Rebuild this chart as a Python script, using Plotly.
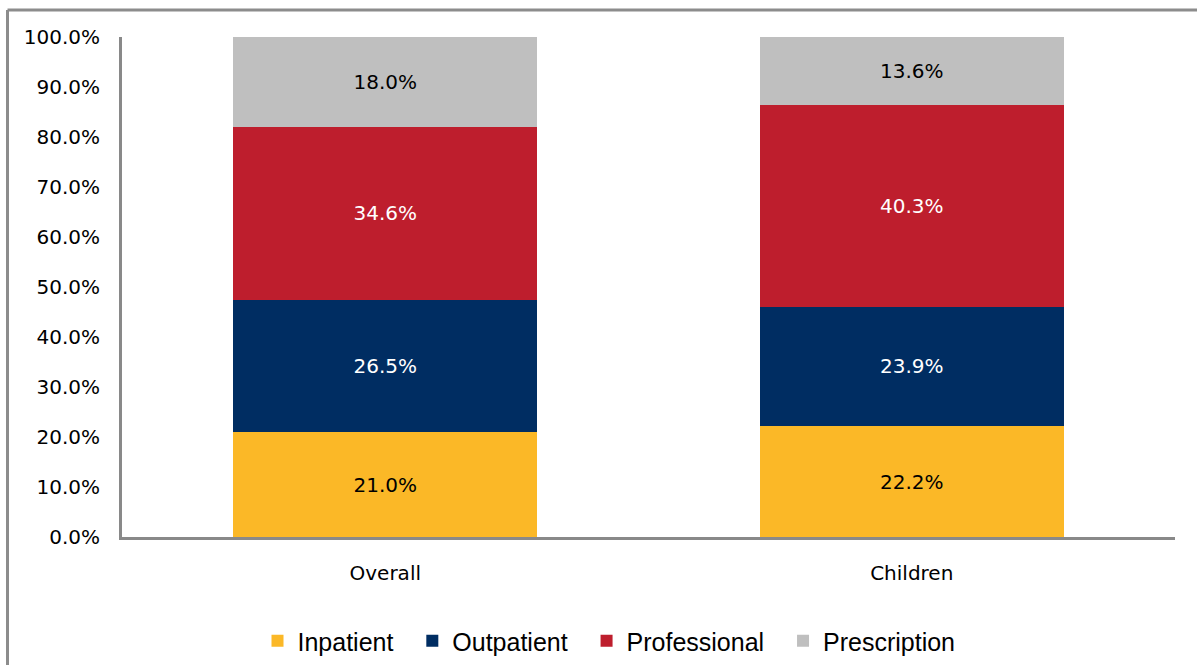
import plotly.graph_objects as go

categories = ["Overall", "Children"]
series_names = ["Inpatient", "Outpatient", "Professional", "Prescription"]
inpatient = [21.0, 22.2]
outpatient = [26.5, 23.9]
professional = [34.6, 40.3]
prescription = [18.0, 13.6]
tick_vals = [0, 10, 20, 30, 40, 50, 60, 70, 80, 90, 100]
tick_text = ["0.0%", "10.0%", "20.0%", "30.0%", "40.0%", "50.0%", "60.0%", "70.0%", "80.0%", "90.0%", "100.0%"]

colors = ["#FBB827", "#002D62", "#BE1E2D", "#BFBFBF"]
text_colors = ["#000000", "#FFFFFF", "#FFFFFF", "#000000"]
series = [inpatient, outpatient, professional, prescription]

fig = go.Figure()
for name, vals, col, tcol in zip(series_names, series, colors, text_colors):
    fig.add_trace(go.Bar(
        x=categories, y=vals, name=name + "\u00a0\u00a0",
        marker=dict(color=col, line=dict(width=0)),
        text=[f"{v:.1f}%" for v in vals],
        textposition="inside", insidetextanchor="middle",
        textfont=dict(color=tcol, size=20, family="DejaVu Sans"),
        hoverinfo="skip",
    ))

L, R, T, B = 122, 22, 37, 128
W, H = 1197, 665
pw, ph = W - L - R, H - T - B

def px_x(px):
    return (px - L) / pw

def px_y(py):
    return (H - B - py) / ph

fig.update_layout(
    barmode="stack",
    barnorm="percent",
    bargap=0.423,
    width=W, height=H,
    margin=dict(l=L, r=R, t=T, b=B, autoexpand=False),
    plot_bgcolor="white", paper_bgcolor="white",
    font=dict(family="DejaVu Sans", size=20, color="#000000"),
    legend=dict(
        orientation="h", xref="container", yref="container",
        x=616 / W, xanchor="center", y=1 - 641 / H, yanchor="middle",
        font=dict(size=25, family="Liberation Sans"),
        traceorder="normal", itemclick=False,
    ),
    xaxis=dict(
        showline=True, linecolor="#898989", linewidth=3, ticks="",
        ticklabelstandoff=16, tickfont=dict(size=20),
        showgrid=False,
    ),
    yaxis=dict(
        range=[0, 100], tickvals=tick_vals, ticktext=tick_text,
        showline=True, linecolor="#898989", linewidth=3, ticks="",
        showgrid=False, zeroline=False, ticklabelstandoff=15,
        tickfont=dict(size=20),
    ),
    shapes=[
        dict(type="line", xref="paper", yref="paper", x0=px_x(7.5), x1=px_x(7.5),
             y0=px_y(10), y1=px_y(700), line=dict(color="#8c8c8c", width=3)),
        dict(type="line", xref="paper", yref="paper", x0=px_x(7.5), x1=px_x(1250),
             y0=px_y(10), y1=px_y(10), line=dict(color="#8c8c8c", width=3)),
    ],
)

fig.write_html("out.html", config={"displayModeBar": False},
               post_script="document.body.style.margin='0';document.body.style.overflow='hidden';")
